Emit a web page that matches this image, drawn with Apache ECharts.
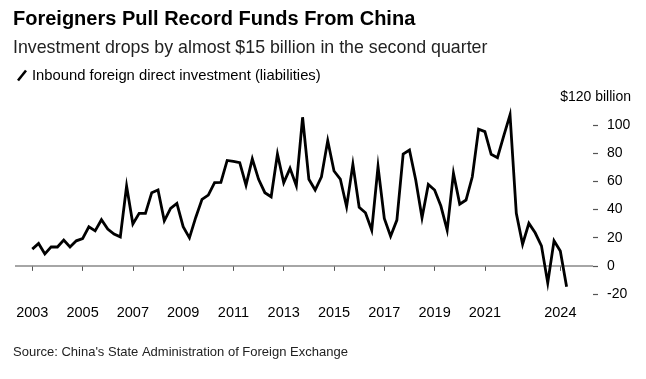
<!DOCTYPE html>
<html>
<head>
<meta charset="utf-8">
<script src="https://cdn.jsdelivr.net/npm/echarts@6/dist/echarts.min.js"></script>
<style>
html,body{margin:0;padding:0;background:#fff;}
#c{width:646px;height:379px;}
</style>
</head>
<body>
<div id="c"></div>
<script>
const titleText = 'Foreigners Pull Record Funds From China';
const subtitleText = 'Investment drops by almost $15 billion in the second quarter';
const sourceText = "Source: China's State Administration of Foreign Exchange";
const seriesName = 'Inbound foreign direct investment (liabilities)';
const yUnitLabel = '$120 billion';

const startYear = 2003; // first quarter of the series: 2003 Q1
const fdiValues = [
  11.9, 15.9, 8.5, 13.5,
  13.4, 18.3, 13.4, 17.8,
  19.4, 27.8, 24.9, 32.8,
  26.2, 22.6, 20.6, 56.7,
  29.7, 37.3, 37.3, 52.0,
  53.9, 32.0, 40.8, 44.4,
  27.8, 19.9, 34.4, 47.3,
  50.3, 59.1, 59.3, 74.9,
  74.2, 73.3, 57.4, 76.0,
  61.5, 52.0, 49.1, 79.5,
  59.1, 69.3, 57.0, 105.6,
  61.5, 53.9, 63.3, 89.0,
  67.4, 61.7, 42.0, 72.2,
  41.6, 37.7, 25.4, 70.5,
  33.7, 21.1, 32.5, 79.5,
  82.3, 61.0, 34.2, 57.9,
  53.9, 42.5, 25.4, 65.8,
  43.9, 46.8, 63.3, 97.1,
  95.4, 79.3, 76.9, 92.3,
  107.3, 37.3, 15.4, 30.2,
  23.5, 14.2, -12.1, 17.8,
  10.5, -14.9
];
const xTickYears = [2003, 2005, 2007, 2009, 2011, 2013, 2015, 2017, 2019, 2021, 2024];
const yTickValues = [-20, 0, 20, 40, 60, 80, 100];

const FONT = "'Liberation Sans', Arial, sans-serif";
const seriesData = fdiValues.map((v, i) => [startYear + i / 4, v]);

const chart = echarts.init(document.getElementById('c'), null, {renderer: 'canvas'});
chart.setOption({
  animation: false,
  backgroundColor: '#fff',
  textStyle: {fontFamily: FONT},
  title: [
    {text: titleText, left: 13, top: 9, padding: 0,
     textStyle: {fontSize: 20, fontWeight: 'bold', color: '#000', fontFamily: FONT}},
    {text: subtitleText, left: 13, top: 39, padding: 0,
     textStyle: {fontSize: 17.8, fontWeight: 'normal', color: '#222', fontFamily: FONT}},
    {text: sourceText, left: 13, top: 346, padding: 0,
     textStyle: {fontSize: 13, fontWeight: 'normal', color: '#222', fontFamily: FONT}}
  ],
  legend: {
    left: 17, top: 68, padding: 0,
    itemWidth: 10, itemHeight: 12,
    data: [{name: seriesName, icon: 'path://M0,10 L8,0 L10,1.6 L2,11.6 Z'}],
    textStyle: {fontSize: 14.8, color: '#000', fontFamily: FONT}
  },
  grid: {left: 15, right: 53, top: 97, bottom: 85, containLabel: false},
  xAxis: {
    type: 'value',
    min: 2002.312, max: 2025.30,
    axisLine: {show: false},
    splitLine: {show: false},
    axisTick: {show: true, customValues: xTickYears, length: 5, lineStyle: {color: '#555', width: 1}},
    axisLabel: {customValues: xTickYears, margin: 11, fontSize: 14.5, color: '#000',
                formatter: v => String(v), fontFamily: FONT}
  },
  yAxis: {
    type: 'value',
    position: 'right',
    min: -20, max: 120, interval: 20,
    name: yUnitLabel,
    nameLocation: 'end',
    nameGap: 0,
    nameTextStyle: {align: 'right', verticalAlign: 'middle', padding: [0, -38, 0, 0],
                    fontSize: 14, color: '#000', fontFamily: FONT},
    axisLine: {show: false},
    splitLine: {show: false},
    axisTick: {show: true, customValues: yTickValues, length: 5, lineStyle: {color: '#555', width: 1.2}},
    axisLabel: {customValues: yTickValues, margin: 14, fontSize: 14, color: '#000',
                formatter: v => String(v), fontFamily: FONT}
  },
  series: [{
    name: seriesName,
    type: 'line',
    data: seriesData,
    color: '#000',
    showSymbol: false,
    symbol: 'none',
    lineStyle: {color: '#000', width: 2.8, join: 'miter'},
    z: 3,
    markLine: {
      silent: true,
      symbol: ['none', 'none'],
      label: {show: false},
      lineStyle: {color: '#888', width: 1.5, type: 'solid'},
      emphasis: {disabled: true},
      data: [{yAxis: 0}],
      z: 1
    }
  }]
});
</script>
</body>
</html>
